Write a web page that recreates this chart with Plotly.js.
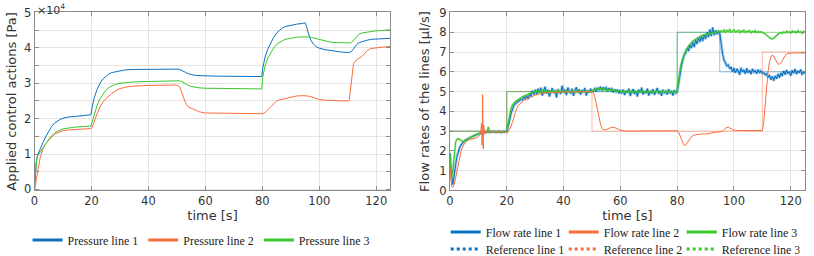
<!DOCTYPE html>
<html>
<head>
<meta charset="utf-8">
<script src="https://cdn.plot.ly/plotly-3.0.1.min.js"></script>
<style>html,body{margin:0;padding:0;background:#fff;}#chart{width:814px;height:256px;}</style>
</head>
<body>
<div id="chart"></div>
<script>
// ---------- Left panel: applied control actions (units of 10^4 Pa) ----------
const pressureTime = [0,0.3,0.6,1,1.5,2,3,4,5,6,7,8,9,10,12,14,16,18,19.8,20.2,21,22,23,24,25,26,27,28,30,32,35,40,45,50,51,52,53,54,55,56,57,58,60,65,70,75,79.8,80.2,81,82,83,84,85,86,87,88,90,92,94,95,95.5,96,97,98,99,100,102,104,106,108,110,110.5,111,111.5,112,113,114,115,116,117,118,120,122,125];
const pressureLine1 = [0,0.45,0.75,0.95,1.06,1.15,1.33,1.5,1.65,1.78,1.87,1.93,1.98,2.01,2.05,2.06,2.08,2.09,2.11,2.3,2.6,2.83,3.0,3.12,3.2,3.26,3.3,3.32,3.36,3.38,3.39,3.40,3.40,3.40,3.39,3.36,3.31,3.27,3.24,3.23,3.22,3.21,3.21,3.20,3.19,3.19,3.19,3.45,3.75,3.98,4.16,4.3,4.42,4.5,4.56,4.6,4.64,4.67,4.69,4.71,4.62,4.45,4.22,4.1,4.03,3.99,3.95,3.92,3.9,3.88,3.87,3.87,3.88,3.92,3.98,4.08,4.15,4.18,4.2,4.22,4.24,4.25,4.26,4.27];
const pressureLine2 = [0,0.15,0.3,0.5,0.72,0.9,1.15,1.3,1.4,1.48,1.55,1.6,1.64,1.66,1.68,1.69,1.70,1.71,1.72,1.75,1.95,2.15,2.33,2.47,2.56,2.64,2.7,2.76,2.85,2.89,2.92,2.94,2.95,2.95,2.9,2.7,2.45,2.33,2.29,2.26,2.23,2.19,2.16,2.15,2.14,2.14,2.14,2.14,2.18,2.26,2.35,2.44,2.5,2.53,2.55,2.57,2.61,2.64,2.65,2.65,2.65,2.64,2.62,2.59,2.56,2.54,2.52,2.51,2.5,2.5,2.5,2.52,2.9,3.3,3.55,3.66,3.7,3.76,3.85,3.93,3.98,4.01,4.02,4.04];
const pressureLine3 = [0,0.45,0.75,0.93,1.0,1.06,1.17,1.3,1.42,1.52,1.59,1.64,1.68,1.71,1.74,1.76,1.77,1.78,1.79,1.9,2.15,2.38,2.56,2.7,2.8,2.87,2.92,2.96,3.0,3.02,3.04,3.05,3.05,3.06,3.07,3.04,2.98,2.94,2.91,2.89,2.88,2.87,2.86,2.85,2.84,2.84,2.84,3.2,3.5,3.72,3.88,4.0,4.1,4.16,4.2,4.24,4.28,4.3,4.31,4.32,4.32,4.31,4.3,4.28,4.25,4.22,4.18,4.16,4.15,4.14,4.13,4.13,4.14,4.17,4.22,4.32,4.39,4.42,4.44,4.45,4.46,4.48,4.5,4.51];
const pressureNames = ['Pressure line 1','Pressure line 2','Pressure line 3'];
const pressureTicks = [0,1,2,3,4,5];

// ---------- Right panel: flow rates (µl/s) ----------
const flowStep = 0.5; // sampling period of flow lines 1 and 3 [s]
const flowLine1 = [1.9,0.8,0.3,0.7,1.3,1.75,2.05,2.2,2.32,2.42,2.5,2.55,2.6,2.63,2.67,2.7,2.74,2.78,2.8,2.84,2.86,2.88,2.9,2.93,2.92,2.96,2.94,2.97,2.93,2.98,2.95,2.99,2.94,2.97,2.95,3.0,2.93,2.97,2.95,2.98,2.96,
3.2,3.55,3.9,4.15,4.3,4.38,4.45,4.5,4.55,4.6,4.58,4.72,4.65,4.8,4.62,4.9,4.75,5.05,4.85,5.1,
4.85,5.15,4.95,5.2,4.8,5.05,5.25,4.9,5.1,4.75,5.0,5.18,4.92,5.08,4.7,5.12,5.02,4.88,5.3,4.95,5.1,4.82,5.2,5.0,4.9,5.15,4.78,5.05,5.22,4.93,5.12,4.85,5.08,4.98,5.18,4.8,5.06,4.95,5.15,5.0,
5.05,5.15,5.0,5.2,5.1,5.25,5.05,5.22,5.12,5.2,5.02,5.18,5.08,5.15,4.95,5.12,5.0,5.1,4.9,5.08,
4.9,5.1,4.82,5.05,4.95,5.15,4.78,5.0,5.12,4.88,5.05,4.75,5.1,4.95,5.2,4.85,5.02,4.92,5.15,4.8,5.05,4.9,5.12,4.83,5.0,5.18,4.88,5.05,4.78,5.1,4.95,5.02,4.85,5.12,4.9,5.05,4.8,5.08,4.92,4.98,
5.4,5.9,6.3,6.6,6.85,6.95,7.2,7.05,7.35,7.2,7.5,7.25,7.6,7.4,7.75,7.5,7.8,7.55,7.9,7.65,8.0,7.75,8.15,7.8,8.25,7.85,8.1,7.9,8.05,7.95,
7.4,6.9,6.6,6.45,6.3,6.35,6.15,6.25,6.0,6.2,5.95,6.15,6.05,5.85,6.2,6.0,6.1,5.9,6.18,5.95,6.08,5.88,6.15,6.0,6.05,5.9,6.12,5.95,6.05,5.92,
5.95,5.85,5.9,5.7,5.85,5.6,5.78,5.55,5.8,5.65,5.9,5.7,5.95,5.78,6.05,5.85,6.1,5.9,6.0,5.8,6.08,5.92,6.15,5.88,6.05,5.95,6.12,5.85,6.02,5.9];
const flowLine3 = [1.8,0.6,1.0,1.9,2.45,2.6,2.62,2.58,2.5,2.46,2.48,2.53,2.58,2.62,2.66,2.7,2.74,2.78,2.82,2.85,2.88,2.9,2.92,2.96,2.93,2.95,2.97,3.22,2.95,3.0,2.96,2.98,2.97,2.99,2.95,2.98,2.97,2.99,2.96,2.98,2.97,
3.4,3.85,4.15,4.32,4.42,4.5,4.55,4.6,4.65,4.7,4.73,4.78,4.8,4.85,4.86,4.9,4.92,4.95,4.96,4.98,
5.02,4.96,5.05,4.98,5.03,4.95,5.06,5.0,4.97,5.04,4.99,5.05,4.96,5.02,4.98,5.07,5.0,4.95,5.03,5.01,4.97,5.05,4.99,5.02,4.96,5.04,5.0,4.98,5.06,4.97,5.03,5.0,4.96,5.05,4.99,5.02,4.97,5.04,5.0,5.03,
5.06,5.1,5.14,5.12,5.17,5.13,5.16,5.1,5.14,5.09,5.12,5.07,5.1,5.05,5.08,5.04,5.06,5.02,5.05,5.01,
4.98,5.03,4.97,5.02,4.96,5.04,4.99,5.01,4.95,5.03,4.98,5.02,4.96,5.0,4.97,5.04,4.98,5.01,4.95,5.02,4.97,5.03,4.96,5.0,4.98,5.02,4.95,5.01,4.97,5.03,4.96,5.0,4.98,5.02,4.95,5.0,4.97,5.01,4.96,4.99,
5.6,6.1,6.45,6.7,6.9,7.05,7.2,7.3,7.4,7.45,7.55,7.6,7.66,7.7,7.75,7.78,7.82,7.85,7.88,7.86,7.92,7.9,7.96,7.93,7.98,7.97,8.02,8.0,8.05,8.03,
8.08,8.02,8.12,8.0,8.1,8.04,8.14,8.01,8.07,8.12,8.0,8.06,8.1,7.98,8.08,8.03,8.11,7.99,8.06,8.02,8.09,7.97,8.05,8.01,8.08,7.98,8.04,8.0,8.03,7.99,
7.97,7.92,7.86,7.78,7.72,7.68,7.66,7.7,7.78,7.85,7.9,7.95,7.98,7.94,8.02,7.97,8.05,7.99,8.03,7.96,8.06,8.0,8.04,7.97,8.08,8.0,8.03,7.95,8.05,7.98];
const flowLine2Time = [0,0.3,0.6,1,1.5,2,2.5,3,3.5,4,5,6,7,8,9,10,10.8,11.1,11.3,11.5,11.7,11.9,12.2,12.6,13,14,16,18,20,20.5,21,21.5,22,22.5,23,23.5,24,25,26,27,28,30,32,35,40,45,50,50.5,51,51.5,52,52.5,53,53.5,54,55,56,57,58,59,60,62,65,70,75,80,80.5,81,81.5,82,82.5,83,83.5,84,85,86,87,88,90,92,94,96,97,98,99,100,102,105,108,110,110.5,111,111.5,112,112.5,113,113.5,114,114.5,115,115.5,116,116.5,117,117.5,118,119,120,122,125];
const flowLine2 = [1.2,0.6,0.2,0.15,0.3,0.65,1.05,1.45,1.8,2.05,2.35,2.52,2.58,2.6,2.65,2.72,2.85,3.4,2.3,4.85,2.1,3.3,2.85,3.0,2.95,2.97,2.95,2.96,2.95,2.98,3.08,3.25,3.45,3.7,3.95,4.15,4.3,4.45,4.55,4.62,4.7,4.82,4.9,4.95,4.98,5.0,5.0,4.95,4.75,4.4,4.0,3.65,3.35,3.15,3.07,3.08,3.15,3.2,3.18,3.1,3.05,3.0,3.0,2.99,3.0,3.02,2.95,2.8,2.6,2.4,2.28,2.3,2.42,2.55,2.72,2.8,2.84,2.85,2.86,2.9,2.95,3.0,3.15,3.2,3.12,3.05,3.03,3.02,3.02,3.03,3.5,4.4,5.3,6.0,6.5,6.75,6.85,6.8,6.65,6.5,6.4,6.38,6.45,6.55,6.7,6.82,6.92,6.95,6.96,6.95];
const refLine1Time = [0,20,80,95,125];
const refLine1 = [3,5,8,6,6];
const refLine2Time = [0,20,50,110,125];
const refLine2 = [3,5,3,7,7];
const refLine3Time = [0,20,80,125];
const refLine3 = [3,5,8,8];
const flowNames = ['Flow rate line 1','Flow rate line 2','Flow rate line 3'];
const refNames = ['Reference line 1','Reference line 2','Reference line 3'];
const timeTicks = [0,20,40,60,80,100,120];
const flowTicks = [0,1,2,3,4,5,6,7,8,9];

const flowTime = flowLine1.map((_, i) => i * flowStep);

const C = ['#0b72c2', '#fa6c3c', '#39c72a'];
const SANS = 'DejaVu Sans, Verdana, sans-serif';
const SERIF = 'Liberation Serif, Times New Roman, serif';

const traces = [];
// Left panel lines
[pressureLine1, pressureLine2, pressureLine3].forEach((ys, k) => {
  traces.push({x: pressureTime, y: ys, xaxis: 'x', yaxis: 'y', type: 'scatter', mode: 'lines',
    line: {color: C[k], width: 1}, showlegend: false, hoverinfo: 'skip'});
});
// Right panel references (faint)
[[refLine1Time, refLine1], [refLine2Time, refLine2], [refLine3Time, refLine3]].forEach((p, k) => {
  traces.push({x: p[0], y: p[1], xaxis: 'x2', yaxis: 'y2', type: 'scatter', mode: 'lines',
    line: {color: C[k], width: 1, shape: 'hv'}, opacity: 0.45, showlegend: false, hoverinfo: 'skip'});
});
// Right panel measured flows (light halo underneath for the noisy band look)
traces.push({x: flowTime, y: flowLine1, xaxis: 'x2', yaxis: 'y2', mode: 'lines', line: {color: C[0], width: 3}, opacity: 0.3, showlegend: false});
traces.push({x: flowTime, y: flowLine1, xaxis: 'x2', yaxis: 'y2', mode: 'lines', line: {color: C[0], width: 1.1}, showlegend: false});
traces.push({x: flowTime, y: flowLine3, xaxis: 'x2', yaxis: 'y2', mode: 'lines', line: {color: C[2], width: 2.2}, opacity: 0.35, showlegend: false});
traces.push({x: flowTime, y: flowLine3, xaxis: 'x2', yaxis: 'y2', mode: 'lines', line: {color: C[2], width: 1.1}, showlegend: false});
traces.push({x: flowLine2Time, y: flowLine2, xaxis: 'x2', yaxis: 'y2', mode: 'lines', line: {color: C[1], width: 1}, showlegend: false});

// Legend entries
pressureNames.forEach((n, k) => traces.push({x: [null], y: [null], xaxis: 'x', yaxis: 'y', mode: 'lines', name: n,
  line: {color: C[k], width: 3}, legend: 'legend'}));
flowNames.forEach((n, k) => traces.push({x: [null], y: [null], xaxis: 'x2', yaxis: 'y2', mode: 'lines', name: n,
  line: {color: C[k], width: 3}, legend: 'legend2'}));
refNames.forEach((n, k) => traces.push({x: [null], y: [null], xaxis: 'x2', yaxis: 'y2', mode: 'lines', name: n,
  line: {color: C[k], width: 3, dash: 'dot'}, legend: 'legend3'}));

const axCommon = {
  showline: true, mirror: 'ticks', linecolor: '#8a8a8a', linewidth: 1,
  ticks: 'inside', ticklen: 4, tickcolor: '#8a8a8a',
  showgrid: true, gridcolor: '#e4e4e4', zeroline: false,
  tickfont: {family: SANS, size: 11.5, color: '#333'}
};
const yDom = [0.2559, 0.9512];
const legCommon = {orientation: 'h', xanchor: 'center', yanchor: 'middle', bgcolor: 'rgba(0,0,0,0)',
  font: {family: SERIF, size: 12, color: '#222'}, itemwidth: 30, traceorder: 'normal'};

const layout = {
  width: 814, height: 256,
  margin: {l: 0, r: 0, t: 0, b: 0, autoexpand: false},
  paper_bgcolor: '#fff', plot_bgcolor: '#fff',
  xaxis: Object.assign({}, axCommon, {domain: [0.0424, 0.4797], range: [0, 125], tickvals: timeTicks, anchor: 'y',
    title: {text: 'time [s]', font: {family: SANS, size: 13, color: '#333'}, standoff: 2}}),
  yaxis: Object.assign({}, axCommon, {domain: yDom, range: [-0.03, 5], tickvals: pressureTicks, anchor: 'x',
    minor: {dtick: 0.5, ticks: 'inside', ticklen: 4, tickcolor: '#8a8a8a', showgrid: true, gridcolor: '#e4e4e4'},
    title: {text: 'Applied control actions [Pa]', font: {family: SANS, size: 13, color: '#333'}, standoff: 4}}),
  xaxis2: Object.assign({}, axCommon, {domain: [0.5528, 0.9889], range: [0, 125], tickvals: timeTicks, anchor: 'y2',
    title: {text: 'time [s]', font: {family: SANS, size: 13, color: '#333'}, standoff: 2}}),
  yaxis2: Object.assign({}, axCommon, {domain: yDom, range: [0, 9], tickvals: flowTicks, anchor: 'x2',
    title: {text: 'Flow rates of the lines [µl/s]', font: {family: SANS, size: 13, color: '#333'}, standoff: 6}}),
  legend: Object.assign({}, legCommon, {x: 0.247, y: 0.0625}),
  legend2: Object.assign({}, legCommon, {x: 0.765, y: 0.094, entrywidth: 73}),
  legend3: Object.assign({}, legCommon, {x: 0.765, y: 0.027, entrywidth: 73}),
  annotations: [{xref: 'paper', yref: 'paper', x: 0.0424, y: 1.0, xanchor: 'left', yanchor: 'top', showarrow: false,
    text: '×10<sup>4</sup>', font: {family: SANS, size: 11, color: '#333'}}]
};

Plotly.newPlot('chart', traces, layout, {staticPlot: true, displayModeBar: false});
</script>
</body>
</html>
